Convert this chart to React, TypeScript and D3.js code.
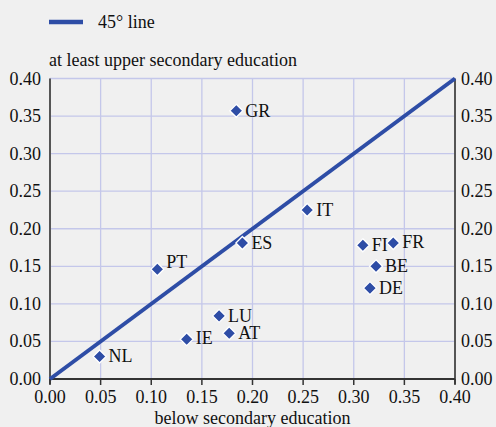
import React from "react";
import * as d3 from "d3";

const countries = ["NL", "IE", "LU", "AT", "GR", "ES", "PT", "IT", "FI", "FR", "BE", "DE"];
const belowSecondary = [0.049, 0.135, 0.167, 0.177, 0.184, 0.190, 0.106, 0.254, 0.309, 0.339, 0.322, 0.316];
const upperSecondary = [0.030, 0.053, 0.084, 0.061, 0.357, 0.181, 0.146, 0.225, 0.178, 0.181, 0.150, 0.121];
const ticks = [0, 0.05, 0.1, 0.15, 0.2, 0.25, 0.3, 0.35, 0.4];
const lineEnds = [0, 0.4];

const W = 496;
const H = 427;
const left = 50;
const right = 455;
const top = 78.5;
const bottom = 379;
const blue = "#2e4da6";
const grid = "#c4c7ea";
const axisCol = "#555555";
const font = "Liberation Serif";
const fs = 18;

const labelDy: Record<string, number> = { PT: -7, FR: -1, IE: -1 };

export default function App() {
  const x = d3.scaleLinear().domain([0, 0.4]).range([left, right]);
  const y = d3.scaleLinear().domain([0, 0.4]).range([bottom, top]);
  const line = d3
    .line<number>()
    .x((d) => x(d))
    .y((d) => y(d));
  const r = 6.5;
  const diamond = `M0,${-r}L${r},0L0,${r}L${-r},0Z`;
  const ts = { fontFamily: font, fontSize: fs, fill: "#111" };

  return (
    <svg width={W} height={H} style={{ display: "block", position: "absolute", left: 0, top: 0 }}>
      <rect x={0} y={0} width={W} height={H} fill="#f0f0f0" />
      {/* legend */}
      <line x1={49} x2={83} y1={22} y2={22} stroke={blue} strokeWidth={4.5} />
      <text x={98} y={27.5} style={ts}>45° line</text>
      <text x={49} y={66} style={ts}>at least upper secondary education</text>
      {/* grid */}
      {ticks.map((t) => (
        <line key={"gx" + t} x1={x(t)} x2={x(t)} y1={top} y2={bottom} stroke={grid} strokeWidth={1.3} />
      ))}
      {ticks.map((t) => (
        <line key={"gy" + t} x1={left} x2={right} y1={y(t)} y2={y(t)} stroke={grid} strokeWidth={1.3} />
      ))}
      {/* axes */}
      <line x1={left} x2={left} y1={top} y2={bottom + 5} stroke={axisCol} strokeWidth={2} />
      <line x1={right} x2={right} y1={top} y2={bottom + 5} stroke={axisCol} strokeWidth={2} />
      <line x1={left} x2={right} y1={bottom} y2={bottom} stroke="#333" strokeWidth={2} />
      {ticks.map((t) => (
        <line key={"tx" + t} x1={x(t)} x2={x(t)} y1={bottom} y2={bottom + 6} stroke="#333" strokeWidth={1.5} />
      ))}
      {ticks.map((t) => (
        <text key={"lx" + t} x={x(t)} y={403} style={ts} textAnchor="middle">
          {t.toFixed(2)}
        </text>
      ))}
      {ticks.map((t) => (
        <text key={"ly" + t} x={41} y={y(t) + 6} style={ts} textAnchor="end">
          {t.toFixed(2)}
        </text>
      ))}
      {ticks.map((t) => (
        <text key={"ry" + t} x={461} y={y(t) + 6} style={ts} textAnchor="start">
          {t.toFixed(2)}
        </text>
      ))}
      <text x={(left + right) / 2} y={424} style={ts} textAnchor="middle">
        below secondary education
      </text>
      {/* 45 degree line */}
      <path d={line(lineEnds) || ""} stroke={blue} strokeWidth={4} fill="none" />
      {/* points */}
      {countries.map((c, i) => (
        <g key={c} transform={`translate(${x(belowSecondary[i])},${y(upperSecondary[i])})`}>
          <path d={diamond} fill={blue} stroke="#ffffff" strokeWidth={1.3} />
          <text x={9} y={6 + (labelDy[c] || 0)} style={ts}>
            {c}
          </text>
        </g>
      ))}
    </svg>
  );
}
